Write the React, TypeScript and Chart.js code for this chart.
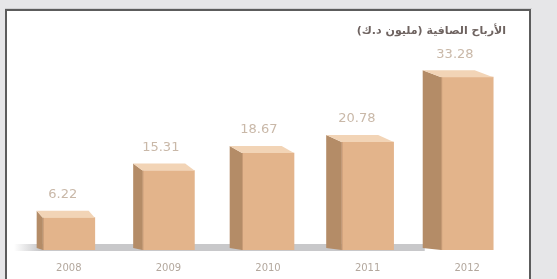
import React, { useEffect, useRef } from "react";
import { Chart, registerables } from "chart.js";

Chart.register(...registerables);

const categories = ["2008", "2009", "2010", "2011", "2012"];
const profits = [6.22, 15.31, 18.67, 20.78, 33.28];
const valueLabels = ["6.22", "15.31", "18.67", "20.78", "33.28"];
const chartTitle = "الأرباح الصافية (مليون د.ك)";

const FRONT = "#e3b48b";
const SIDE = "#b48c67";
const TOP = "#f2d4b6";

const depthFor = (x: number) => 4 + x * 0.031;

const boxPlugin = {
  id: "box3d",
  beforeDraw(chart: any) {
    const { ctx, width, height } = chart;
    ctx.save();
    ctx.fillStyle = "#e6e6e8";
    ctx.fillRect(0, 0, width, height);
    ctx.fillStyle = "#ffffff";
    ctx.fillRect(6, 10, 524, height - 10);
    ctx.fillStyle = "#d0d0d2";
    ctx.fillRect(5, 8, 527, 1);
    ctx.fillStyle = "#5c5c5c";
    ctx.fillRect(5, 9, 526, 2);
    ctx.fillRect(5, 9, 2, height - 9);
    ctx.fillRect(529, 9, 2, height - 9);
    ctx.font = "bold 11px 'DejaVu Sans'";
    ctx.fillStyle = "#6e6360";
    ctx.direction = "rtl";
    ctx.textAlign = "right";
    ctx.textBaseline = "middle";
    ctx.fillText(chartTitle, 506, 31);
    ctx.restore();
  },
  beforeDatasetsDraw(chart: any) {
    const { ctx } = chart;
    const meta = chart.getDatasetMeta(0);
    const last = meta.data[meta.data.length - 1];
    const base = last.base;
    const lastLeft = last.x - last.width / 2 - depthFor(last.x);
    ctx.save();
    const g = ctx.createLinearGradient(14, 0, 40, 0);
    g.addColorStop(0, "rgba(200,200,202,0)");
    g.addColorStop(1, "rgba(200,200,202,1)");
    ctx.fillStyle = g;
    ctx.fillRect(14, base - 6, lastLeft - 14 + 2, 7);
    ctx.restore();
  },
  afterDatasetsDraw(chart: any) {
    const { ctx } = chart;
    const meta = chart.getDatasetMeta(0);
    ctx.save();
    meta.data.forEach((bar: any, i: number) => {
      const xL = bar.x - bar.width / 2;
      const xR = bar.x + bar.width / 2;
      const yT = bar.y;
      const base = bar.base;
      const d = depthFor(bar.x);
      const dy = 7;
      ctx.fillStyle = SIDE;
      ctx.beginPath();
      ctx.moveTo(xL, yT);
      ctx.lineTo(xL - d, yT - dy);
      ctx.lineTo(xL - d, base - 2);
      ctx.lineTo(xL, base);
      ctx.closePath();
      ctx.fill();
      ctx.fillStyle = TOP;
      ctx.beginPath();
      ctx.moveTo(xL, yT);
      ctx.lineTo(xR, yT);
      ctx.lineTo(xR - d, yT - dy);
      ctx.lineTo(xL - d, yT - dy);
      ctx.closePath();
      ctx.fill();
      ctx.strokeStyle = "rgba(150,110,80,0.35)";
      ctx.lineWidth = 1;
      ctx.beginPath();
      ctx.moveTo(xL + 0.5, yT);
      ctx.lineTo(xL + 0.5, base);
      ctx.stroke();
      ctx.font = "13px 'DejaVu Sans'";
      ctx.fillStyle = "#c9b8a8";
      ctx.textAlign = "center";
      ctx.textBaseline = "middle";
      ctx.fillText(valueLabels[i], bar.x - d / 2 - 3, yT - 23);
    });
    ctx.restore();
  },
};

export default function App() {
  const ref = useRef<HTMLCanvasElement | null>(null);
  useEffect(() => {
    if (!ref.current) return;
    const chart = new Chart(ref.current, {
      type: "bar",
      data: {
        labels: categories,
        datasets: [
          {
            data: profits,
            backgroundColor: FRONT,
            borderWidth: 0,
            barThickness: 52,
          },
        ],
      },
      options: {
        responsive: false,
        animation: false,
        layout: { padding: { left: 19, right: 40, top: 63, bottom: 5 } },
        plugins: {
          legend: { display: false },
          tooltip: { enabled: false },
          title: { display: false },
        },
        scales: {
          x: {
            grid: { display: false, drawTicks: false },
            border: { display: false },
            afterFit: (scale: any) => {
              scale.height = 24;
            },
            ticks: {
              color: "#b3a89e",
              font: { family: "'DejaVu Sans'", size: 10 },
              padding: 12,
              maxRotation: 0,
            },
          },
          y: {
            display: false,
            min: 0,
            max: 36,
          },
        },
      },
      plugins: [boxPlugin],
    });
    return () => chart.destroy();
  }, []);
  return (
    <div style={{ position: "fixed", left: 0, top: 0, width: 557, height: 279 }}>
      <canvas ref={ref} width={557} height={279} />
    </div>
  );
}
